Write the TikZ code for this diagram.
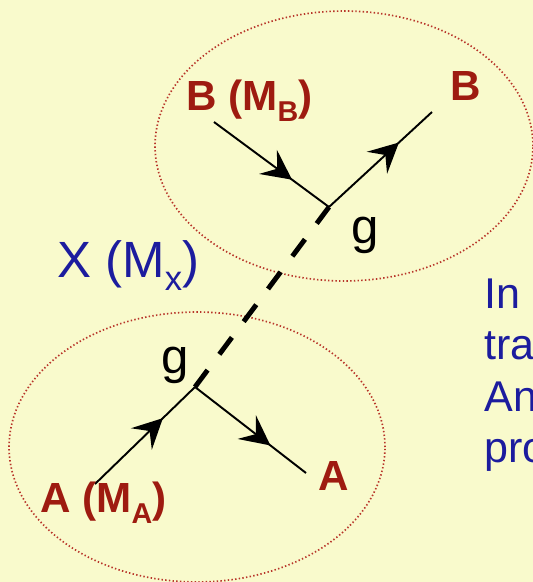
\documentclass[tikz,border=0pt]{standalone}
\usepackage{fontspec}
\setmainfont{Liberation Sans}
\usetikzlibrary{positioning,arrows.meta,decorations.markings}
\definecolor{sbg}{HTML}{F9FACC}
\definecolor{sred}{HTML}{9E1B10}
\definecolor{sblue}{HTML}{1C1C9E}
\definecolor{sdot}{HTML}{B8352A}
\newcommand{\psub}[1]{\raisebox{-0.27em}{\scalebox{0.68}{#1}}}

\begin{document}
\begin{tikzpicture}[x=0.02cm, y=-0.02cm,
  blob/.style={draw=sdot, line width=0.95pt, dash pattern=on 0.8pt off 1.3pt},
  leg/.style={line width=1.1pt, postaction={decorate},
    decoration={markings, mark=at position 0.68 with {\arrow{Stealth[length=17pt,width=17pt,inset=6.5pt]}}}},
  boson/.style={line width=2.8pt, dash pattern=on 12pt off 11.2pt},
  ptcl/.style={text=sred, font=\fontsize{24}{29}\selectfont\bfseries, inner sep=0pt, anchor=base west},
  glab/.style={font=\fontsize{28}{34}\selectfont, inner sep=0pt, anchor=base},
  note/.style={text=sblue, font=\fontsize{24.5}{29}\selectfont, inner sep=0pt, text height=20pt, text depth=9pt}]
\useasboundingbox (0,0) rectangle (533,582);
\fill[sbg] (0,0) rectangle (533,582);
% the two interaction regions
\draw[blob] (344,146) ellipse [x radius=3.78cm, y radius=2.7cm];
\draw[blob] (197,447) ellipse [x radius=3.76cm, y radius=2.7cm];
% vertices and line ends
\coordinate (vB) at (329,207);
\coordinate (vA) at (195,387);
\coordinate (bin) at (214,122);
\coordinate (bout) at (432,112);
\coordinate (ain) at (95,484);
\coordinate (aout) at (306,473);
\draw[leg] (bin) -- (vB);
\draw[leg] (vB) -- (bout);
\draw[leg] (ain) -- (vA);
\draw[leg] (vA) -- (aout);
\draw[boson] (vA) -- (vB);
% labels
\node[ptcl] (bm) at (186,110) {B (M\psub{B})};
\node[ptcl] (bf) at (450,100) {B};
\node[ptcl] (am) at (40,512) {A (M\psub{A})};
\node[ptcl] (af) at (318,490) {A};
\node[glab] (gB) at (365,243) {g};
\node[glab] (gA) at (175,373) {g};
\node[text=sblue, font=\fontsize{29}{35}\selectfont, inner sep=0pt, anchor=base west] (xm) at (57,277) {X (M\psub{x})};
% text running off the right edge
\node[note, anchor=base west] (l1) at (484,308) {In c};
\node[note, below=0pt of l1.south west, anchor=north west] (l2) {tra};
\node[note, below=0pt of l2.south west, anchor=north west] (l3) {An};
\node[note, below=0pt of l3.south west, anchor=north west] (l4) {pro};
\end{tikzpicture}
\end{document}
